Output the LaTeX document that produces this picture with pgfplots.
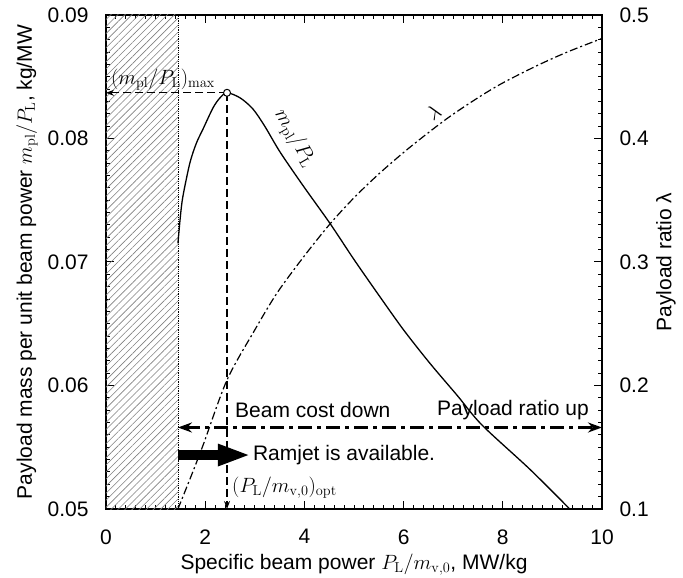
\documentclass[border=0pt]{standalone}
\usepackage[no-math]{fontspec}
\setmainfont{Liberation Sans}
\usepackage{pgfplots}
\pgfplotsset{compat=1.18}
\usetikzlibrary{patterns.meta,arrows.meta}
\newcommand{\fs}{\fontsize{21bp}{25bp}\selectfont}
\begin{document}
\begin{tikzpicture}
\pgfplotsset{
  common/.style={
    scale only axis, width=496bp, height=494bp,
    xmin=0, xmax=10,
    tick align=inside,
    major tick length=8bp, minor tick length=4bp,
    every tick/.style={black, line width=1bp},
    axis line style={line width=1.8bp},
    tick label style={font=\fs},
    label style={font=\fs},
    /pgf/number format/assume math mode=true,
    scaled y ticks=false,
    clip=false,
  }
}
\begin{axis}[common,
  ymin=0.05, ymax=0.09,
  xtick={0,2,4,6,8,10}, minor x tick num=9,
  ytick={0.05,0.06,0.07,0.08,0.09}, minor y tick num=9,
  ytick pos=left,
  yticklabel style={/pgf/number format/fixed, /pgf/number format/precision=2, /pgf/number format/fixed zerofill, xshift=-14bp},
  xticklabel style={yshift=-17bp},
  xlabel={Specific beam power $P_{\mathrm{L}}/m_{\mathrm{v,0}}$, MW/kg},
  ylabel={Payload mass per unit beam power $m_{\mathrm{pl}}/P_{\mathrm{L}}$, kg/MW},
  ylabel style={at={(rel axis cs:0,0.5)}, anchor=center, yshift=79bp},
  xlabel style={at={(rel axis cs:0.5,0)}, anchor=center, yshift=-56bp},
]
\coordinate (SW) at (rel axis cs:0,0);
\coordinate (NE) at (rel axis cs:1,1);
% hatched region
\addplot[draw=none, pattern={Lines[angle=45, distance=5bp, line width=0.6bp]}, pattern color=gray, forget plot]
  coordinates {(0,0.05) (1.45,0.05) (1.45,0.09) (0,0.09)};
\addplot[densely dotted, line width=0.8bp, forget plot] coordinates {(1.45,0.05) (1.45,0.09)};
% m_pl/P_L curve
\addplot[black, line width=1.3bp, smooth] table {
x y
1.45 0.0715
1.50 0.0737
1.55 0.0753
1.69 0.0780
1.82 0.0796
1.96 0.0808
2.16 0.0825
2.30 0.0833
2.44 0.0837
2.70 0.0833
2.96 0.0824
3.20 0.0810
3.51 0.0789
3.97 0.0762
4.52 0.0731
5.00 0.0702
5.52 0.0672
6.00 0.0645
6.53 0.0618
7.08 0.0592
7.58 0.0568
8.55 0.0532
9.35 0.0500
};
% optimum guide lines
\addplot[black, line width=1.1bp, dash pattern=on 8bp off 4bp, -{Stealth[length=8bp,width=6bp]}]
  coordinates {(2.44,0.0837) (0,0.0837)};
\addplot[black, line width=1.1bp, dash pattern=on 8bp off 4bp, -{Stealth[length=8bp,width=6bp]}]
  coordinates {(2.44,0.0837) (2.44,0.05)};
\addplot[only marks, mark=*, mark options={fill=white, draw=black, line width=1bp}, mark size=3.5bp]
  coordinates {(2.44,0.0837)};
% double arrow
\addplot[black, line width=2.6bp, dash pattern=on 14bp off 5bp on 4bp off 5bp,
  {Stealth[length=14bp,width=10bp]}-{Stealth[length=14bp,width=10bp]}]
  coordinates {(1.45,0.0566) (10,0.0566)};
% ramjet arrow
\addplot[black, line width=10bp, -{Triangle[length=33bp,width=20bp]}]
  coordinates {(1.45,0.05437) (2.92,0.05437)};
% labels
\node[anchor=west, font=\fs, inner sep=0pt] at (axis cs:0.1,0.08474) {$(m_{\mathrm{pl}}/P_{\mathrm{L}})_{\max}$};
\node[font=\fs, rotate=-60, inner sep=0pt] at (axis cs:3.80,0.0800) {$m_{\mathrm{pl}}/P_{\mathrm{L}}$};
\node[font=\fs, rotate=35, inner sep=0pt] at (axis cs:6.61,0.08215) {$\lambda$};
\node[anchor=west, font=\fs, inner sep=0pt] at (axis cs:2.60,0.05802) {Beam cost down};
\node[anchor=west, font=\fs, inner sep=0pt] at (axis cs:6.67,0.05802) {Payload ratio up};
\node[anchor=west, font=\fs, inner sep=0pt] at (axis cs:2.96,0.05437) {Ramjet is available.};
\node[anchor=west, font=\fs, inner sep=0pt] at (axis cs:2.54,0.0517) {$(P_{\mathrm{L}}/m_{\mathrm{v,0}})_{\mathrm{opt}}$};
\end{axis}
\begin{axis}[common,
  ymin=0.1, ymax=0.5,
  axis x line=none,
  axis y line*=right,
  ytick={0.1,0.2,0.3,0.4,0.5}, minor y tick num=9,
  ytick pos=right,
  yticklabel style={/pgf/number format/fixed, /pgf/number format/precision=1, xshift=14bp},
  ylabel={Payload ratio λ},
  ylabel style={at={(rel axis cs:1,0.5)}, anchor=center, yshift=-64bp},
]
\addplot[black, line width=1.2bp, dash pattern=on 8bp off 3bp on 2bp off 3bp, smooth] table {
x y
1.45 0.100
1.70 0.125
1.96 0.152
2.44 0.2045
3.00 0.245
3.45 0.275
4.00 0.305
4.52 0.331
5.00 0.352
5.52 0.372
6.13 0.393
6.87 0.416
7.50 0.433
8.00 0.445
8.69 0.459
9.30 0.470
10.0 0.481
};
\end{axis}
\pgfresetboundingbox
\path[use as bounding box] ([shift={(-106bp,-69bp)}]SW) rectangle ([shift={(81bp,15bp)}]NE);
\end{tikzpicture}
\end{document}
